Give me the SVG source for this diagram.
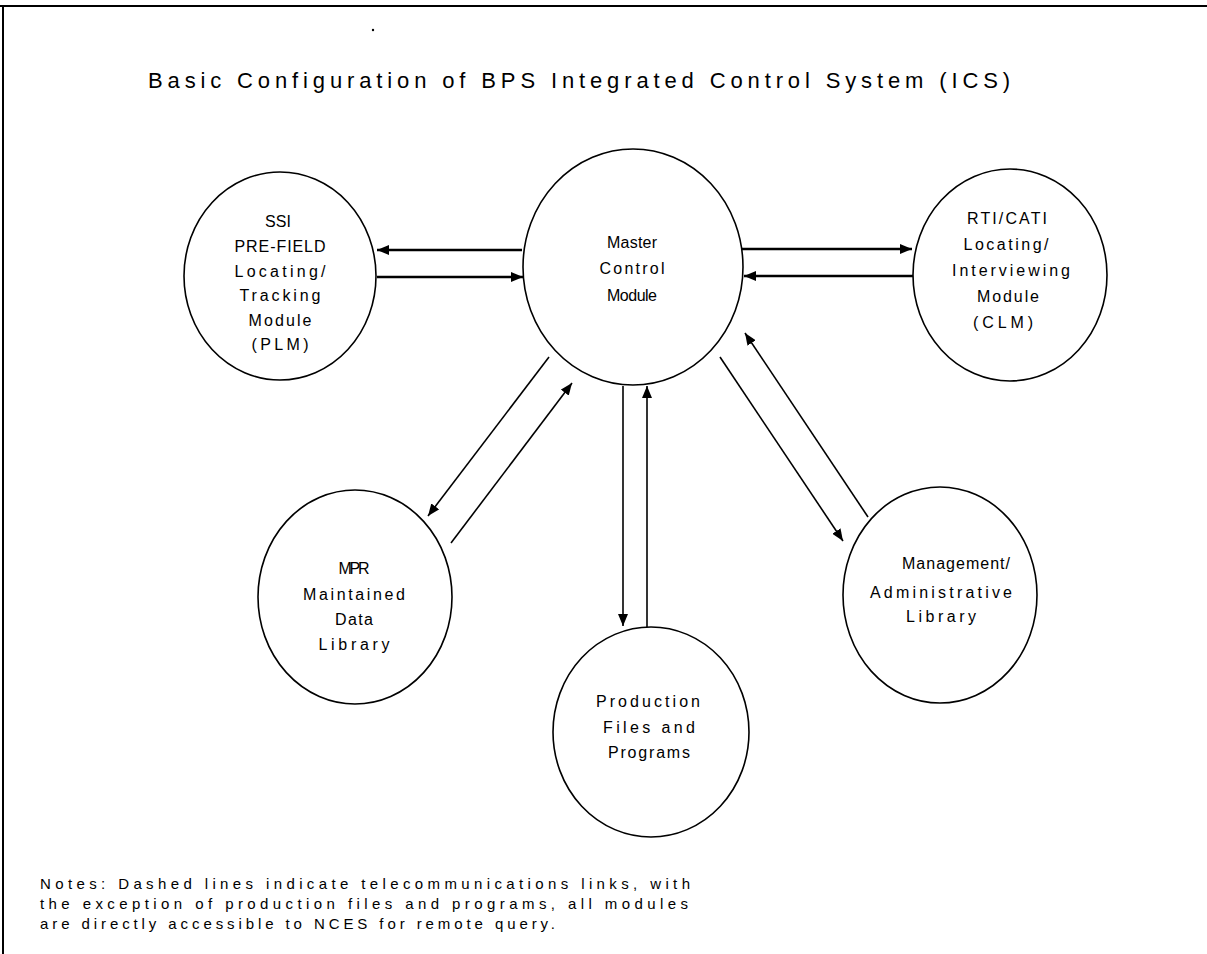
<svg xmlns="http://www.w3.org/2000/svg" width="1207" height="954" viewBox="0 0 1207 954">
<defs>
<marker id="ah" viewBox="0 0 12 10" refX="12" refY="5" markerWidth="12" markerHeight="10" markerUnits="userSpaceOnUse" orient="auto">
<path d="M0,0 L12,5 L0,10 Z" fill="#000"/>
</marker>
<style>
.node ellipse{fill:#fff;stroke:#000;stroke-width:1.6}
.lbl{font-family:"Liberation Sans","DejaVu Sans",sans-serif;font-size:16px;fill:#000;text-anchor:middle}
.c line{stroke:#000;marker-end:url(#ah)}
.h{stroke-width:2.6}
.d{stroke-width:1.6}
.note{font-family:"Liberation Sans","DejaVu Sans",sans-serif;font-size:15px;fill:#000}
.title{font-family:"Liberation Sans","DejaVu Sans",sans-serif;font-size:22px;fill:#000}
</style>
</defs>
<rect width="1207" height="954" fill="#fff"/>
<g id="frame">
<line x1="0" y1="6" x2="1207" y2="6" stroke="#000" stroke-width="2"/>
<line x1="3" y1="6" x2="3" y2="954" stroke="#000" stroke-width="2"/>
<circle cx="373" cy="30" r="1.2" fill="#000"/>
</g>
<text class="title" x="148" y="88" textLength="862" lengthAdjust="spacing">Basic Configuration of BPS Integrated Control System (ICS)</text>

<g id="connectors" class="c">
<line class="h" x1="522" y1="250" x2="377" y2="250"/>
<line class="h" x1="377" y1="277" x2="523" y2="277"/>
<line class="h" x1="742" y1="249" x2="912" y2="249"/>
<line class="h" x1="913" y1="276" x2="744" y2="276"/>
<line class="d" x1="549" y1="357" x2="428" y2="516"/>
<line class="d" x1="451" y1="543" x2="572" y2="383"/>
<line class="d" x1="623" y1="386" x2="623" y2="626"/>
<line class="d" x1="647" y1="627" x2="647" y2="386"/>
<line class="d" x1="720" y1="357" x2="843" y2="541"/>
<line class="d" x1="868" y1="517" x2="745" y2="333"/>
</g>

<g id="ssi" class="node">
<ellipse cx="280" cy="276" rx="96" ry="104"/>
<text class="lbl" x="278" y="227">SSI</text>
<text class="lbl" x="280" y="252" textLength="91" lengthAdjust="spacing">PRE-FIELD</text>
<text class="lbl" x="280" y="277" textLength="91" lengthAdjust="spacing">Locating/</text>
<text class="lbl" x="280" y="301" textLength="81" lengthAdjust="spacing">Tracking</text>
<text class="lbl" x="280" y="326" textLength="63" lengthAdjust="spacing">Module</text>
<text class="lbl" x="280" y="350" textLength="57" lengthAdjust="spacing">(PLM)</text>
</g>

<g id="master" class="node">
<ellipse cx="633" cy="267" rx="110" ry="118"/>
<text class="lbl" x="632" y="248" textLength="50" lengthAdjust="spacing">Master</text>
<text class="lbl" x="632" y="274" textLength="65" lengthAdjust="spacing">Control</text>
<text class="lbl" x="632" y="301" textLength="50" lengthAdjust="spacing">Module</text>
</g>

<g id="rti" class="node">
<ellipse cx="1010" cy="275" rx="97" ry="106"/>
<text class="lbl" x="1007" y="224" textLength="80" lengthAdjust="spacing">RTI/CATI</text>
<text class="lbl" x="1006" y="250" textLength="85" lengthAdjust="spacing">Locating/</text>
<text class="lbl" x="1011" y="276" textLength="118" lengthAdjust="spacing">Interviewing</text>
<text class="lbl" x="1008" y="302" textLength="62" lengthAdjust="spacing">Module</text>
<text class="lbl" x="1003" y="328" textLength="60" lengthAdjust="spacing">(CLM)</text>
</g>

<g id="mpr" class="node">
<ellipse cx="355" cy="597" rx="97" ry="107"/>
<text class="lbl" x="354" y="574" textLength="31" lengthAdjust="spacing">MPR</text>
<text class="lbl" x="354" y="600" textLength="102" lengthAdjust="spacing">Maintained</text>
<text class="lbl" x="354" y="625" textLength="38" lengthAdjust="spacing">Data</text>
<text class="lbl" x="354" y="650" textLength="71" lengthAdjust="spacing">Library</text>
</g>

<g id="production" class="node">
<ellipse cx="651" cy="732" rx="98" ry="105"/>
<text class="lbl" x="648" y="707" textLength="104" lengthAdjust="spacing">Production</text>
<text class="lbl" x="649" y="733" textLength="92" lengthAdjust="spacing">Files and</text>
<text class="lbl" x="649" y="758" textLength="82" lengthAdjust="spacing">Programs</text>
</g>

<g id="management" class="node">
<ellipse cx="940" cy="595" rx="97" ry="108"/>
<text class="lbl" x="956" y="569" textLength="108" lengthAdjust="spacing">Management/</text>
<text class="lbl" x="941" y="598" textLength="142" lengthAdjust="spacing">Administrative</text>
<text class="lbl" x="941" y="622" textLength="70" lengthAdjust="spacing">Library</text>
</g>

<g id="notes">
<text class="note" x="40" y="889" textLength="650" lengthAdjust="spacing">Notes:  Dashed lines indicate telecommunications links, with</text>
<text class="note" x="40" y="909" textLength="648" lengthAdjust="spacing">the exception of production files and programs, all modules</text>
<text class="note" x="40" y="929" textLength="515" lengthAdjust="spacing">are directly accessible to NCES for remote query.</text>
</g>
</svg>
